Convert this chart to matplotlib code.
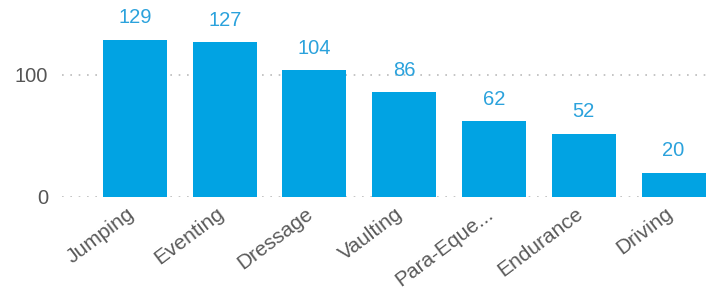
import matplotlib
matplotlib.use("Agg")
import matplotlib.pyplot as plt
import matplotlib.transforms as mtransforms

categories = ["Jumping", "Eventing", "Dressage", "Vaulting", "Para-Eque...", "Endurance", "Driving"]
values = [129, 127, 104, 86, 62, 52, 20]
yticks = [0, 100]

plt.rcParams['font.family'] = ['Liberation Sans', 'DejaVu Sans']

W, H = 708, 289
fig = plt.figure(figsize=(W/100, H/100), dpi=100)
left, right = 62, 708
bottom_y, top_y = 197, 5
ax = fig.add_axes([left/W, (H-bottom_y)/H, (right-left)/W, (bottom_y-top_y)/H])

bar_color = '#01a3e3'
x = list(range(len(categories)))
ax.bar(x, values, width=0.713, color=bar_color, zorder=2)

ax.set_xlim(-0.813, 6.384)
ax.set_ylim(0, 192/1.22)

for xi, v in zip(x, values):
    ax.annotate(str(v), (xi, v), xytext=(0, 9), textcoords='offset points',
                ha='center', va='bottom', fontsize=14.5, color='#2ba2dc')

ax.set_yticks(yticks)
ax.set_yticklabels([str(t) for t in yticks], fontsize=14.5, color='#555555')
ax.yaxis.grid(True, linestyle=(0, (1, 4)), color='#bbbbbb', linewidth=1.2, zorder=0)
ax.tick_params(axis='y', length=0, pad=10)

ax.set_xticks(x)
ax.set_xticklabels(categories, rotation=37, ha='right', rotation_mode='anchor',
                   fontsize=15, color='#5a5a5a')
ax.tick_params(axis='x', length=0, pad=5)
shift = mtransforms.ScaledTranslation(-9/100, 0, fig.dpi_scale_trans)
for lbl in ax.get_xticklabels():
    lbl.set_transform(lbl.get_transform() + shift)

for s in ax.spines.values():
    s.set_visible(False)

fig.savefig("out.png", dpi=100)
